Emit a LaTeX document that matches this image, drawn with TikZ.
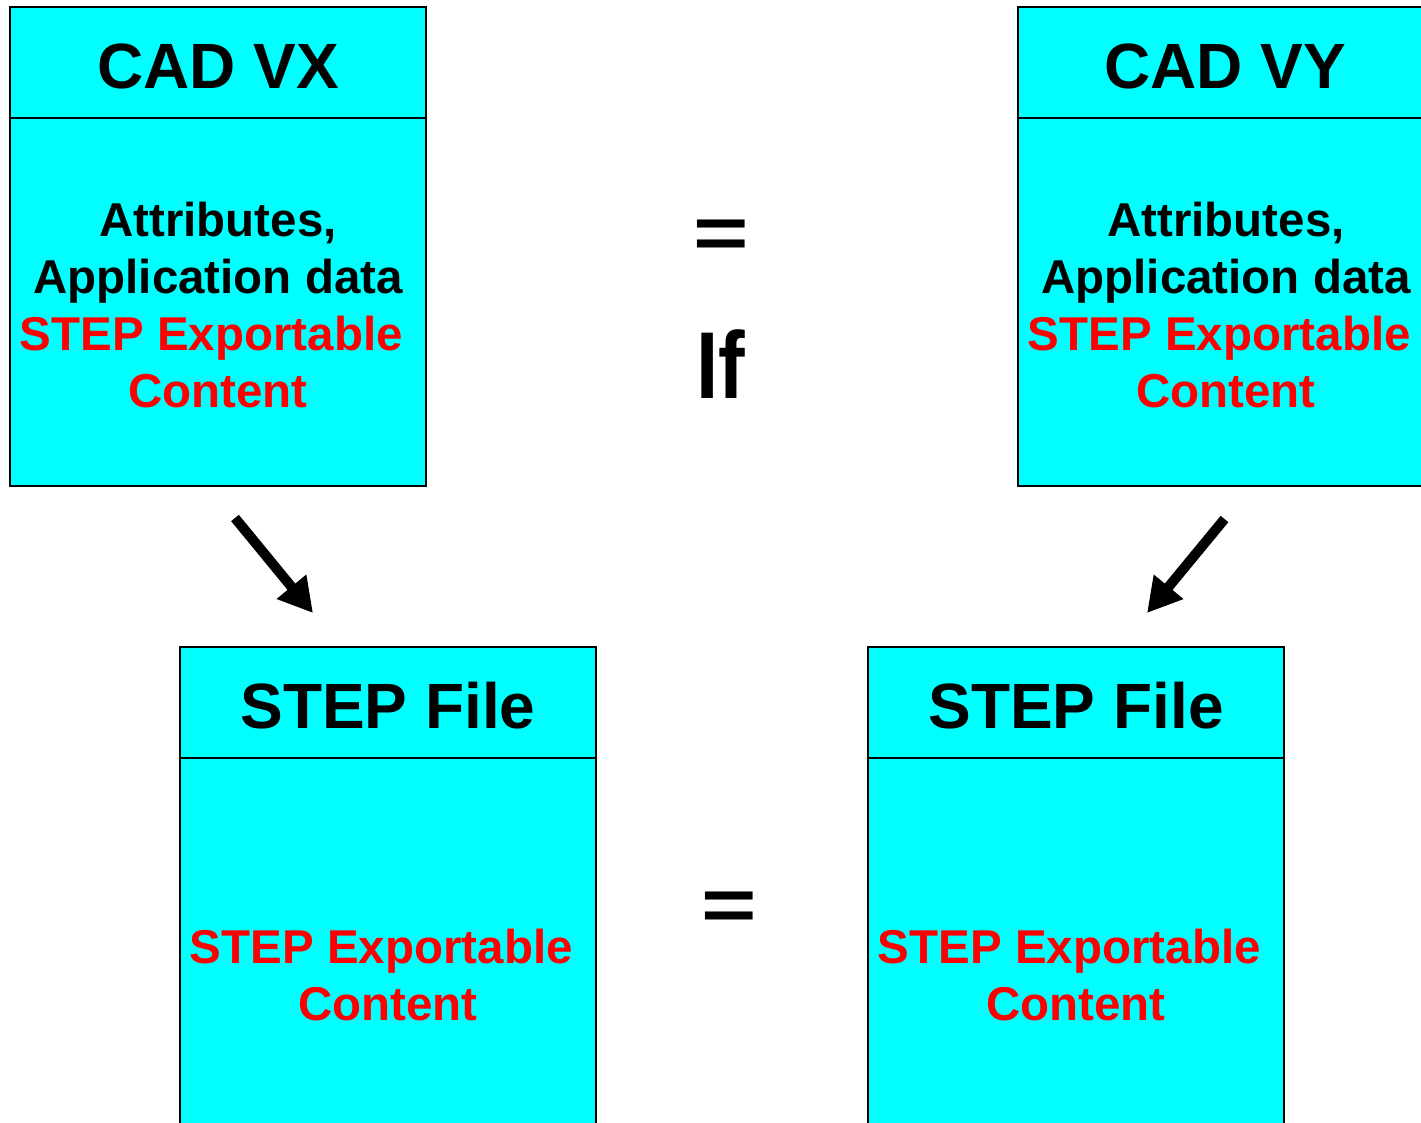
\documentclass[tikz,border=0pt]{standalone}
\usepackage{fontspec}
\setmainfont{Liberation Sans}
\usetikzlibrary{arrows.meta}
\definecolor{boxfill}{HTML}{00FFFF}
\definecolor{hlred}{HTML}{FF0000}
\begin{document}
\begin{tikzpicture}[x=1pt,y=-1pt,
  box/.style={draw=black, line width=2pt, fill=boxfill, minimum width=416pt,
    minimum height=479pt, inner sep=0pt, outer sep=0pt},
  boxtitle/.style={anchor=base, inner sep=0pt, font=\bfseries\fontsize{64}{77}\selectfont},
  boxbody/.style={anchor=base, align=center, inner sep=0pt,
    font=\bfseries\fontsize{47.5}{57}\selectfont},
  hl/.style={text=hlred},
  bigsign/.style={anchor=base, inner sep=0pt, font=\bfseries\fontsize{95}{110}\selectfont},
  flow/.style={line width=10pt, -{Triangle[length=34pt,width=36pt]}}
]
\useasboundingbox (0,0) rectangle (1421,1122);
\clip (0,0) rectangle (1421,1122);

% the four boxes
\node[box] (vx) at (218,246.5) {};
\node[box] (vy) at (1226,246.5) {};
\node[box] (fx) at (388,886.5) {};
\node[box] (fy) at (1076,886.5) {};

% header dividers
\foreach \b in {vx,vy,fx,fy}
  \draw[line width=1.5pt] (\b.north west) ++(0,111) -- ++(416,0);

% titles
\node[boxtitle] (vxt) at (218,88) {CAD VX};
\node[boxtitle] (vyt) at (1225,88) {CAD VY};
\node[boxtitle] (fxt) at (388,728) {STEP File};
\node[boxtitle] (fyt) at (1076,728) {STEP File};

% contents (anchored at the baseline of the last line)
\node[boxbody] (vxb) at (218,407) {Attributes,\\Application data\\
  \textcolor{hlred}{STEP Exportable\hspace*{0.28em}}\\\textcolor{hlred}{Content}};
\node[boxbody] (vyb) at (1226,407) {Attributes,\\Application data\\
  \textcolor{hlred}{STEP Exportable\hspace*{0.28em}}\\\textcolor{hlred}{Content}};
\node[boxbody,hl] (fxb) at (388,1020) {STEP Exportable\hspace*{0.28em}\\Content};
\node[boxbody,hl] (fyb) at (1076,1020) {STEP Exportable\hspace*{0.28em}\\Content};

% signs between the columns
\node[bigsign] (eqtop) at (721.5,258) {\scalebox{1}[0.78]{=}};
\node[bigsign] (ifw) at (721,398) {\scalebox{0.84}[1]{If}};
\node[bigsign] (eqbot) at (729.5,930) {\scalebox{1}[0.78]{=}};

% export arrows
\coordinate (l1) at (235,518);
\coordinate (l2) at (313,613);
\coordinate (r1) at (1224.5,519);
\coordinate (r2) at (1147,613);
\draw[flow] (l1) -- (l2);
\draw[flow] (r1) -- (r2);
\end{tikzpicture}
\end{document}
